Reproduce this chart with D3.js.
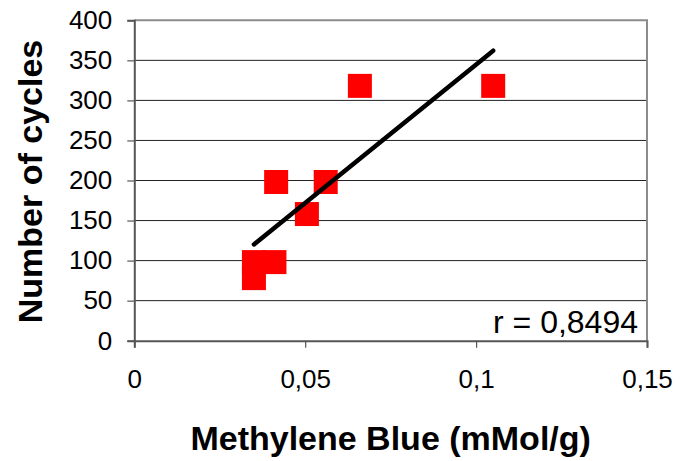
<!DOCTYPE html>
<html>
<head>
<meta charset="utf-8">
<script src="https://cdn.jsdelivr.net/npm/d3@7"></script>
<style>
  html, body { margin: 0; padding: 0; background: #fff; }
  svg { display: block; font-family: "Liberation Sans", Arial, sans-serif; }
</style>
</head>
<body>
<svg id="chart" width="683" height="461"></svg>
<script>
// Methylene Blue uptake vs. number of cycles
const methyleneBlue = [0.035, 0.035, 0.041, 0.0415, 0.0505, 0.056, 0.066, 0.105];
const cycles        = [80, 100, 100, 200, 160, 200, 320, 320];
const xTicks = [0, 0.05, 0.1, 0.15];
const yTicks = [0, 50, 100, 150, 200, 250, 300, 350, 400];
const xTitle = "Methylene Blue (mMol/g)";
const yTitle = "Number of cycles";
const rLabel = "r = 0,8494";

const svg = d3.select("#chart");
const plot = { left: 134.3, right: 647, top: 20.3, bottom: 340.7 };

const x = d3.scaleLinear().domain([0, 0.15]).range([plot.left, plot.right]);
const y = d3.scaleLinear().domain([0, 400]).range([plot.bottom, plot.top]);

const fmt = d => String(d).replace(".", ",");

// horizontal gridlines
svg.append("g")
  .selectAll("line")
  .data(yTicks.filter(d => d > 0 && d < 400))
  .join("line")
  .attr("x1", plot.left).attr("x2", plot.right)
  .attr("y1", d => y(d)).attr("y2", d => y(d))
  .attr("stroke", "#222").attr("stroke-width", 1);

// top & right frame
svg.append("path")
  .attr("d", `M${plot.left},${plot.top}H${plot.right}V${plot.bottom}`)
  .attr("fill", "none").attr("stroke", "#8c8c8c").attr("stroke-width", 2);

// y axis
const yAxis = svg.append("g")
  .attr("transform", `translate(${plot.left},0)`)
  .call(d3.axisLeft(y).tickValues(yTicks).tickSize(7).tickPadding(15).tickFormat(fmt));
yAxis.select(".domain").attr("stroke", "#555").attr("stroke-width", 2);
yAxis.selectAll(".tick line").attr("stroke", "#555").attr("stroke-width", 1.2);
yAxis.selectAll(".tick text")
  .attr("font-size", 26).attr("fill", "#000")
  .attr("font-family", "Liberation Sans, Arial, sans-serif");

// x axis
const xAxis = svg.append("g")
  .attr("transform", `translate(0,${plot.bottom})`)
  .call(d3.axisBottom(x).tickValues(xTicks).tickSize(7).tickPadding(22).tickFormat(fmt));
xAxis.select(".domain").attr("stroke", "#555").attr("stroke-width", 2);
xAxis.selectAll(".tick line").attr("stroke", "#555").attr("stroke-width", 1.2);
xAxis.selectAll(".tick text")
  .attr("font-size", 26).attr("fill", "#000")
  .attr("font-family", "Liberation Sans, Arial, sans-serif");

// linear regression trend line over the data range
const n = methyleneBlue.length;
const mx = d3.mean(methyleneBlue), my = d3.mean(cycles);
let sxy = 0, sxx = 0;
for (let i = 0; i < n; i++) {
  sxy += (methyleneBlue[i] - mx) * (cycles[i] - my);
  sxx += (methyleneBlue[i] - mx) ** 2;
}
const slope = sxy / sxx, intercept = my - slope * mx;
const [xmin, xmax] = d3.extent(methyleneBlue);

// data markers
const size = 24;
svg.append("g")
  .selectAll("rect")
  .data(methyleneBlue.map((v, i) => [v, cycles[i]]))
  .join("rect")
  .attr("x", d => x(d[0]) - size / 2)
  .attr("y", d => y(d[1]) - size / 2 + 1.5)
  .attr("width", size).attr("height", size)
  .attr("fill", "#ff0000");

svg.append("line")
  .attr("x1", x(xmin)).attr("y1", y(slope * xmin + intercept))
  .attr("x2", x(xmax)).attr("y2", y(slope * xmax + intercept))
  .attr("stroke", "#000").attr("stroke-width", 4.5).attr("stroke-linecap", "round");

// correlation label
svg.append("text")
  .attr("x", 638).attr("y", 333)
  .attr("text-anchor", "end")
  .attr("font-size", 32)
  .text(rLabel);

// axis titles
svg.append("text")
  .attr("x", (plot.left + plot.right) / 2).attr("y", 450)
  .attr("text-anchor", "middle")
  .attr("font-size", 34).attr("font-weight", "bold")
  .text(xTitle);

svg.append("text")
  .attr("transform", `translate(42,${(plot.top + plot.bottom) / 2 + 1}) rotate(-90)`)
  .attr("text-anchor", "middle")
  .attr("font-size", 34).attr("font-weight", "bold")
  .text(yTitle);
</script>
</body>
</html>
